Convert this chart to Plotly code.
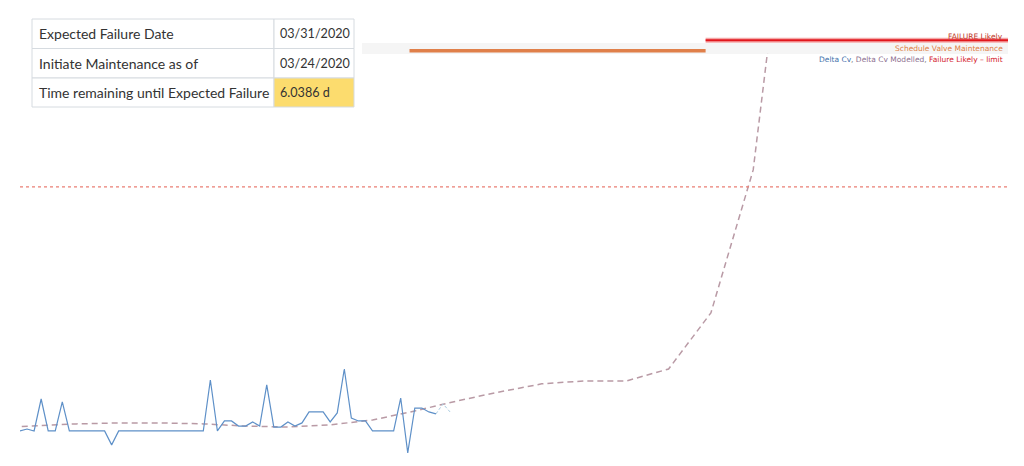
import plotly.graph_objects as go
import pandas as pd

# ---------------- data ----------------
blue_start = "2020-03-14 19:00"
delta_cv = [0.000, 0.008, 0.000, 0.131, 0.000, 0.000, 0.119, 0.000, 0.000, 0.000,
            0.000, 0.000, 0.000, -0.057, 0.000, 0.000, 0.000, 0.000, 0.000, 0.000,
            0.000, 0.000, 0.000, 0.000, 0.000, 0.000, 0.000, 0.209, 0.000, 0.041,
            0.041, 0.020, 0.020, 0.037, 0.020, 0.189, 0.016, 0.016, 0.037, 0.020,
            0.033, 0.078, 0.078, 0.078, 0.037, 0.074, 0.254, 0.053, 0.041, 0.041,
            0.000, 0.000, 0.000, 0.000, 0.135, -0.090, 0.094, 0.094, 0.078, 0.070]
delta_cv_tail = [0.070, 0.111, 0.078]

model_start = "2020-03-14 03:00"
delta_cv_model = [0.012, 0.020, 0.029, 0.033, 0.033, 0.029, 0.020, 0.016, 0.025, 0.045,
                  0.082, 0.123, 0.160, 0.193, 0.205, 0.205, 0.254, 0.484, 1.070, 2.500]

failure_limit = 1.0

maint_start = "2020-03-24"
failure_date = "2020-03-31"
timeline_end = "2020-04-07 03:34"
timeline_start = "2020-03-14 19:00"

table_labels = ["Expected Failure Date", "Initiate Maintenance as of",
                "Time remaining until Expected Failure"]
table_values = ["03/31/2020", "03/24/2020", "6.0386 d"]

# --------------------------------------
W, H = 1024, 466
t_blue = pd.date_range(blue_start, periods=len(delta_cv), freq="4h")
t_tail = pd.date_range(t_blue[-1], periods=len(delta_cv_tail), freq="4h")
t_model = pd.date_range(model_start, periods=len(delta_cv_model), freq="1D")

fig = go.Figure()

fig.add_trace(go.Scatter(x=t_model, y=delta_cv_model, mode="lines",
                         line=dict(color="#b99aa5", width=1.5, dash="6px,4px"),
                         name="Delta Cv Modelled", hoverinfo="skip"))
fig.add_trace(go.Scatter(x=t_tail, y=delta_cv_tail, mode="lines",
                         line=dict(color="#a9cbe0", width=1, dash="3px,2px"),
                         hoverinfo="skip"))
fig.add_trace(go.Scatter(x=t_blue, y=delta_cv, mode="lines",
                         line=dict(color="#5e90c8", width=1.2),
                         name="Delta Cv", hoverinfo="skip"))
fig.add_trace(go.Scatter(x=[timeline_start, timeline_end], y=[failure_limit, failure_limit],
                         mode="lines", line=dict(color="#ea7f74", width=1.2, dash="dot"),
                         name="Failure Likely - limit", hoverinfo="skip"))

# timeline rows (yaxis2): 0 = maintenance, 1 = failure likely
fig.add_trace(go.Scatter(x=[maint_start, failure_date], y=[0, 0], yaxis="y2", mode="lines",
                         line=dict(color="#e0804a", width=3.5), hoverinfo="skip"))
fig.add_trace(go.Scatter(x=[failure_date, timeline_end], y=[1, 1], yaxis="y2", mode="lines",
                         line=dict(color="#f4a7a7", width=5), hoverinfo="skip"))
fig.add_trace(go.Scatter(x=[failure_date, timeline_end], y=[1, 1], yaxis="y2", mode="lines",
                         line=dict(color="#e2161c", width=2.2), hoverinfo="skip"))

def px_x(p):
    return p / W

def px_y(p):
    return (H - p) / H

shapes = []
# light band of the maintenance row
shapes.append(dict(type="rect", xref="paper", yref="paper", layer="below",
                   x0=px_x(362), x1=px_x(1008), y0=px_y(54), y1=px_y(43),
                   fillcolor="#f5f5f5", line=dict(width=0)))

# table
col_x = [32, 274, 354]
row_y = [19, 48.5, 78, 107]
border = "#d6dbe0"
for r in range(3):
    fill_val = "#fcdc6e" if r == 2 else "white"
    shapes.append(dict(type="rect", xref="paper", yref="paper",
                       x0=px_x(col_x[0]), x1=px_x(col_x[1]),
                       y0=px_y(row_y[r + 1]), y1=px_y(row_y[r]),
                       fillcolor="white", line=dict(color=border, width=1)))
    shapes.append(dict(type="rect", xref="paper", yref="paper",
                       x0=px_x(col_x[1]), x1=px_x(col_x[2]),
                       y0=px_y(row_y[r + 1]), y1=px_y(row_y[r]),
                       fillcolor=fill_val, line=dict(color=border, width=1)))

annotations = []
tfont = dict(family="Lato", size=14, color="#333333")
vfont = dict(family="Lato", size=12.6, color="#333333")
for r in range(3):
    yc = (row_y[r] + row_y[r + 1]) / 2
    annotations.append(dict(xref="paper", yref="paper", x=px_x(37), y=px_y(yc),
                            xanchor="left", yanchor="middle", showarrow=False,
                            text=table_labels[r], font=tfont))
    annotations.append(dict(xref="paper", yref="paper", x=px_x(278), y=px_y(yc),
                            xanchor="left", yanchor="middle", showarrow=False,
                            text=table_values[r], font=vfont))

lfont = dict(family="DejaVu Sans", size=7.5)
annotations.append(dict(xref="paper", yref="paper", x=px_x(1005), y=px_y(36),
                        xanchor="right", yanchor="middle", showarrow=False,
                        text="FAILURE Likely", font=dict(lfont, color="#c0392b")))
annotations.append(dict(xref="paper", yref="paper", x=px_x(1005), y=px_y(48.5),
                        xanchor="right", yanchor="middle", showarrow=False,
                        text="Schedule Valve Maintenance", font=dict(lfont, color="#df7d45")))
legend_text = ('<span style="color:#3f71ab">Delta Cv</span>'
               '<span style="color:#888">, </span>'
               '<span style="color:#8d7090">Delta Cv Modelled</span>'
               '<span style="color:#888">, </span>'
               '<span style="color:#d4202b">Failure Likely \u2013 limit</span>')
annotations.append(dict(xref="paper", yref="paper", x=px_x(1005), y=px_y(59.5),
                        xanchor="right", yanchor="middle", showarrow=False,
                        text=legend_text, font=lfont))

fig.update_layout(
    width=W, height=H,
    margin=dict(l=0, r=0, t=0, b=0),
    paper_bgcolor="white", plot_bgcolor="rgba(0,0,0,0)",
    showlegend=False,
    xaxis=dict(domain=[px_x(20), px_x(1008)], range=[timeline_start, timeline_end],
               type="date", visible=False, fixedrange=True),
    yaxis=dict(domain=[px_y(460), px_y(53)], range=[-0.119, 1.549],
               visible=False, fixedrange=True),
    yaxis2=dict(domain=[px_y(56), px_y(35)], range=[-0.5, 1.5], anchor="x",
                visible=False, fixedrange=True),
    shapes=shapes,
    annotations=annotations,
)

fig.write_html("out.html", config={"displayModeBar": False},
               post_script="document.body.style.margin='0';document.body.style.overflow='hidden';")
